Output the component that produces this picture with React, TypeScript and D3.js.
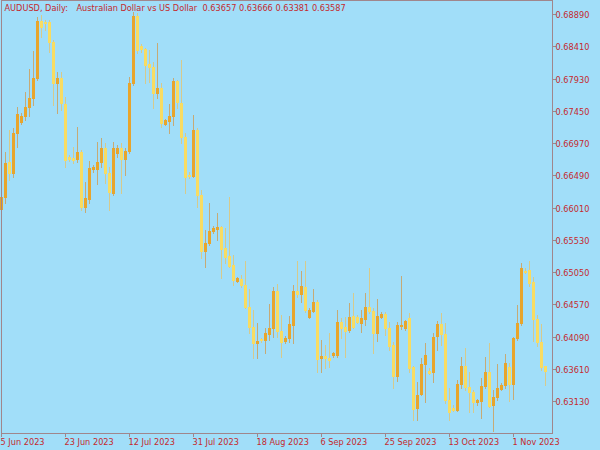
import React from "react";
import * as d3 from "d3";

// ---- DATA (AUDUSD daily, Sun-Fri bars from 5 Jun 2023) ----
const symbolTitle = "AUDUSD, Daily:";
const symbolDesc = "Australian Dollar vs US Dollar";

const openP = [
  0.65997, 0.66176, 0.66697, 0.66533, 0.67128, 0.67292, 0.67382, 0.67516, 0.6765, 0.67947,
  0.68795, 0.68781, 0.68781, 0.68483, 0.67872, 0.67947, 0.6756, 0.66771, 0.66756, 0.66742,
  0.66845, 0.66027, 0.66146, 0.66593, 0.66593, 0.66697, 0.66905, 0.66533, 0.66235, 0.66831,
  0.66905, 0.66742, 0.6686, 0.67872, 0.6887, 0.68424, 0.68379, 0.68155, 0.68111, 0.67724,
  0.67798, 0.67262, 0.67307, 0.67382, 0.67902, 0.67575, 0.67069, 0.66503, 0.66488, 0.67173,
  0.66205, 0.65372, 0.65491, 0.6567, 0.65699, 0.65729, 0.65417, 0.65298, 0.65164, 0.64925,
  0.64955, 0.64866, 0.64539, 0.64241, 0.64003, 0.64062, 0.64047, 0.64137, 0.64226, 0.64777,
  0.64181, 0.64033, 0.64077, 0.64271, 0.64777, 0.64732, 0.64836, 0.6439, 0.64479, 0.64613,
  0.6378, 0.6381, 0.6378, 0.63824, 0.63824, 0.64315, 0.64241, 0.64196, 0.64405, 0.6439,
  0.643, 0.6436, 0.64539, 0.64479, 0.64152, 0.6439, 0.64435, 0.64226, 0.63973, 0.63512,
  0.64256, 0.64226, 0.64375, 0.63646, 0.63035, 0.63244, 0.6369, 0.63586, 0.63571, 0.64107,
  0.64285, 0.64137, 0.63154, 0.63035, 0.63006, 0.63392, 0.63661, 0.63348, 0.63274, 0.63125,
  0.6314, 0.63363, 0.63571, 0.6308, 0.63199, 0.63318, 0.63378, 0.63646, 0.63392, 0.64077,
  0.643, 0.65074, 0.65089, 0.6491, 0.6436, 0.64018, 0.63657,
];

const highP = [
  0.66205, 0.66845, 0.67173, 0.67203, 0.67516, 0.67427, 0.67738, 0.68081, 0.68349, 0.68855,
  0.68885, 0.6881, 0.6881, 0.68513, 0.68036, 0.68036, 0.67665, 0.66801, 0.6692, 0.67218,
  0.66875, 0.66399, 0.66712, 0.66652, 0.66994, 0.67054, 0.66979, 0.66623, 0.66994, 0.6695,
  0.66979, 0.66905, 0.67962, 0.68929, 0.68915, 0.68453, 0.68394, 0.68364, 0.68185, 0.68468,
  0.67872, 0.67337, 0.6756, 0.67947, 0.67917, 0.68215, 0.67128, 0.66548, 0.67397, 0.67203,
  0.6628, 0.65685, 0.66086, 0.65744, 0.65937, 0.65744, 0.65714, 0.66176, 0.65313, 0.64985,
  0.65015, 0.65223, 0.64806, 0.64494, 0.643, 0.64077, 0.64226, 0.64583, 0.64836, 0.64881,
  0.6442, 0.64107, 0.64405, 0.64866, 0.65223, 0.65074, 0.65223, 0.64524, 0.64806, 0.64643,
  0.64047, 0.63973, 0.64152, 0.63869, 0.64494, 0.64375, 0.6439, 0.64598, 0.64747, 0.6442,
  0.64494, 0.64747, 0.65119, 0.64524, 0.64658, 0.64464, 0.64464, 0.64315, 0.64018, 0.64315,
  0.65, 0.64345, 0.64449, 0.63661, 0.63422, 0.6378, 0.64003, 0.63631, 0.64152, 0.6433,
  0.64449, 0.643, 0.63333, 0.6308, 0.63452, 0.63795, 0.63929, 0.63571, 0.63303, 0.63169,
  0.63482, 0.63795, 0.64003, 0.63303, 0.6369, 0.63407, 0.63839, 0.63705, 0.64092, 0.64568,
  0.65194, 0.65119, 0.65223, 0.64985, 0.6442, 0.64285, 0.63666,
];

const lowP = [
  0.65982, 0.66086, 0.66429, 0.66474, 0.6692, 0.67262, 0.67322, 0.67382, 0.67546, 0.67917,
  0.68558, 0.68661, 0.68334, 0.67546, 0.67427, 0.67471, 0.66623, 0.66712, 0.66682, 0.66697,
  0.65982, 0.65952, 0.66086, 0.66548, 0.66369, 0.66623, 0.66384, 0.65982, 0.66205, 0.66771,
  0.66235, 0.66503, 0.66831, 0.67843, 0.68319, 0.68334, 0.67872, 0.67887, 0.67501, 0.6765,
  0.67218, 0.67248, 0.67128, 0.67248, 0.67501, 0.66979, 0.66235, 0.66459, 0.66474, 0.66027,
  0.65268, 0.65134, 0.65461, 0.6564, 0.65536, 0.6497, 0.65194, 0.65134, 0.64866, 0.6491,
  0.64836, 0.64524, 0.64152, 0.6378, 0.6378, 0.64018, 0.63854, 0.64047, 0.64092, 0.64092,
  0.63795, 0.64003, 0.64018, 0.64003, 0.64687, 0.64613, 0.64464, 0.64375, 0.64464, 0.63571,
  0.63571, 0.63631, 0.63646, 0.63795, 0.63795, 0.64077, 0.63795, 0.64167, 0.64226, 0.643,
  0.64167, 0.64271, 0.64449, 0.63854, 0.64033, 0.64375, 0.64122, 0.63899, 0.63333, 0.63437,
  0.64211, 0.64196, 0.63571, 0.62857, 0.62857, 0.63229, 0.63125, 0.63541, 0.63422, 0.63899,
  0.63973, 0.6311, 0.62857, 0.62991, 0.62991, 0.63333, 0.63303, 0.62976, 0.62976, 0.6308,
  0.62887, 0.63333, 0.6305, 0.62693, 0.63154, 0.63303, 0.63333, 0.6314, 0.63169, 0.64047,
  0.64271, 0.65044, 0.64851, 0.64033, 0.63958, 0.63601, 0.63381,
];

const closeP = [
  0.66176, 0.66682, 0.66533, 0.67128, 0.67411, 0.67382, 0.67516, 0.6765, 0.67947, 0.68795,
  0.68706, 0.68766, 0.68483, 0.67872, 0.67947, 0.67575, 0.66727, 0.66742, 0.66727, 0.66845,
  0.66027, 0.66161, 0.66608, 0.66623, 0.66697, 0.66905, 0.66533, 0.6625, 0.66905, 0.66905,
  0.66742, 0.6686, 0.67872, 0.6887, 0.68364, 0.68379, 0.6814, 0.68111, 0.67724, 0.67798,
  0.67277, 0.67322, 0.67382, 0.67902, 0.6759, 0.67069, 0.66474, 0.66488, 0.67173, 0.66205,
  0.65372, 0.65491, 0.6567, 0.65714, 0.65729, 0.65402, 0.65283, 0.65149, 0.6494, 0.6497,
  0.64866, 0.64539, 0.64241, 0.64003, 0.64033, 0.64047, 0.64152, 0.64226, 0.64777, 0.64181,
  0.64018, 0.64077, 0.64285, 0.64777, 0.64732, 0.64851, 0.64494, 0.64494, 0.64613, 0.63765,
  0.6381, 0.6378, 0.6375, 0.63854, 0.64315, 0.64226, 0.64181, 0.6439, 0.64241, 0.64315,
  0.64375, 0.64539, 0.64479, 0.64152, 0.64405, 0.64435, 0.64226, 0.63958, 0.63512, 0.64271,
  0.64271, 0.6433, 0.63631, 0.6302, 0.63229, 0.6369, 0.63824, 0.63556, 0.64092, 0.64285,
  0.64137, 0.63154, 0.62976, 0.63006, 0.63392, 0.63661, 0.63348, 0.63274, 0.63125, 0.63154,
  0.63363, 0.63571, 0.63065, 0.63199, 0.63333, 0.63378, 0.63705, 0.63392, 0.64077, 0.643,
  0.65119, 0.65059, 0.64896, 0.6436, 0.64018, 0.63646, 0.63587,
];

const priceTicks = [
  0.6889, 0.6841, 0.6793, 0.6745, 0.6697, 0.6649, 0.6601, 0.6553, 0.6505, 0.6457, 0.6409,
  0.6361, 0.6313,
];

const dateTicks = [
  "2023-06-05", "2023-06-23", "2023-07-12", "2023-07-31", "2023-08-18",
  "2023-09-06", "2023-09-25", "2023-10-13", "2023-11-01",
];

// Trading calendar: every day except Saturday (broker has Sunday bars)
const barDates = d3
  .timeDay.range(new Date(2023, 5, 5), new Date(2023, 10, 11))
  .filter((d) => d.getDay() !== 6);

// ---- STYLE ----
const BG = "#A1DEF9";
const FG = "#C42A2E";
const FRAME = "#A0868C";
const BULL = "#E8A52C";
const BEAR = "#F8DC62";
const BULL_WICK = "#C6AA76";
const BEAR_WICK = "#D6CA8C";
const FONT = "'DejaVu Sans', Verdana, sans-serif";

export default function App() {
  const W = 600;
  const H = 450;
  const plotRight = 552;
  const plotBottom = 433;

  const n = openP.length;
  const x = d3
    .scaleBand<number>()
    .domain(d3.range(n))
    .range([-0.5, 547.5])
    .paddingInner(0.25)
    .paddingOuter(0.125);

  const y = d3.scaleLinear().domain([0.626637, 0.690934]).range([plotBottom, 1]);

  const fmtDate = d3.timeFormat("%-d %b %Y");
  const parse = d3.timeParse("%Y-%m-%d");
  const fmtPrice = d3.format(".5f");

  const idxOf = (s: string) => {
    const t = parse(s)!.getTime();
    return barDates.findIndex((d) => d.getTime() === t);
  };

  const last = n - 1;
  const titleNums = [openP[last], highP[last], lowP[last], closeP[last]]
    .map(fmtPrice)
    .join(" ");

  return (
    <svg
      width={W}
      height={H}
      style={{ position: "absolute", left: 0, top: 0, background: BG, display: "block" }}
    >
      <rect x={0} y={0} width={W} height={H} fill={BG} />
      <g shapeRendering="crispEdges">
        {d3.range(n).map((i) => {
          const o = openP[i];
          const c = closeP[i];
          const bull = c >= o;
          const bx = x(i)!;
          const yTop = Math.round(y(Math.max(o, c)));
          const yBot = Math.round(y(Math.min(o, c)));
          const yH = Math.round(y(highP[i]));
          const yL = Math.round(y(lowP[i]));
          return (
            <g key={i}>
              <rect
                x={bx + 1}
                y={yH}
                width={1}
                height={Math.max(1, yL - yH + 1)}
                fill={bull ? BULL_WICK : BEAR_WICK}
              />
              <rect
                x={bx}
                y={yTop}
                width={x.bandwidth()}
                height={Math.max(1, yBot - yTop + 1)}
                fill={bull ? BULL : BEAR}
              />
            </g>
          );
        })}

        {/* frame */}
        <rect
          x={1.5}
          y={0.5}
          width={plotRight - 1}
          height={plotBottom - 0.5 + 0.5 - 0.5}
          fill="none"
          stroke={FRAME}
          strokeWidth={1}
        />

        {/* right price axis */}
        {priceTicks.map((p) => {
          const ty = Math.floor(y(p)) + 0.5;
          return (
            <g key={p}>
              <line x1={plotRight + 0.5} x2={plotRight + 4} y1={ty} y2={ty} stroke={FRAME} />
            </g>
          );
        })}

        {/* bottom date axis */}
        {dateTicks.map((s) => {
          const i = idxOf(s);
          const tx = Math.floor(x(i)! + x.bandwidth() / 2) + 0.5;
          return (
            <line key={s} x1={tx} x2={tx} y1={plotBottom} y2={plotBottom + 4} stroke={FRAME} />
          );
        })}
      </g>

      {priceTicks.map((p) => (
        <text
          key={"t" + p}
          x={plotRight + 3.5}
          y={Math.floor(y(p)) + 3.5}
          fontFamily={FONT}
          fontSize={8.2}
          fill={FG}
        >
          {fmtPrice(p)}
        </text>
      ))}

      {dateTicks.map((s) => {
        const i = idxOf(s);
        const tx = Math.floor(x(i)! + x.bandwidth() / 2);
        return (
          <text
            key={"d" + s}
            x={tx - 0.5}
            y={444.5}
            fontFamily={FONT}
            fontSize={8.2}
            fill={FG}
          >
            {fmtDate(barDates[i])}
          </text>
        );
      })}

      <text y={11} fontFamily={FONT} fontSize={8.2} fill={FG}>
        <tspan x={4.5}>{symbolTitle}</tspan>
        <tspan x={76.5}>{symbolDesc}</tspan>
        <tspan x={202.5}>{titleNums}</tspan>
      </text>
    </svg>
  );
}
